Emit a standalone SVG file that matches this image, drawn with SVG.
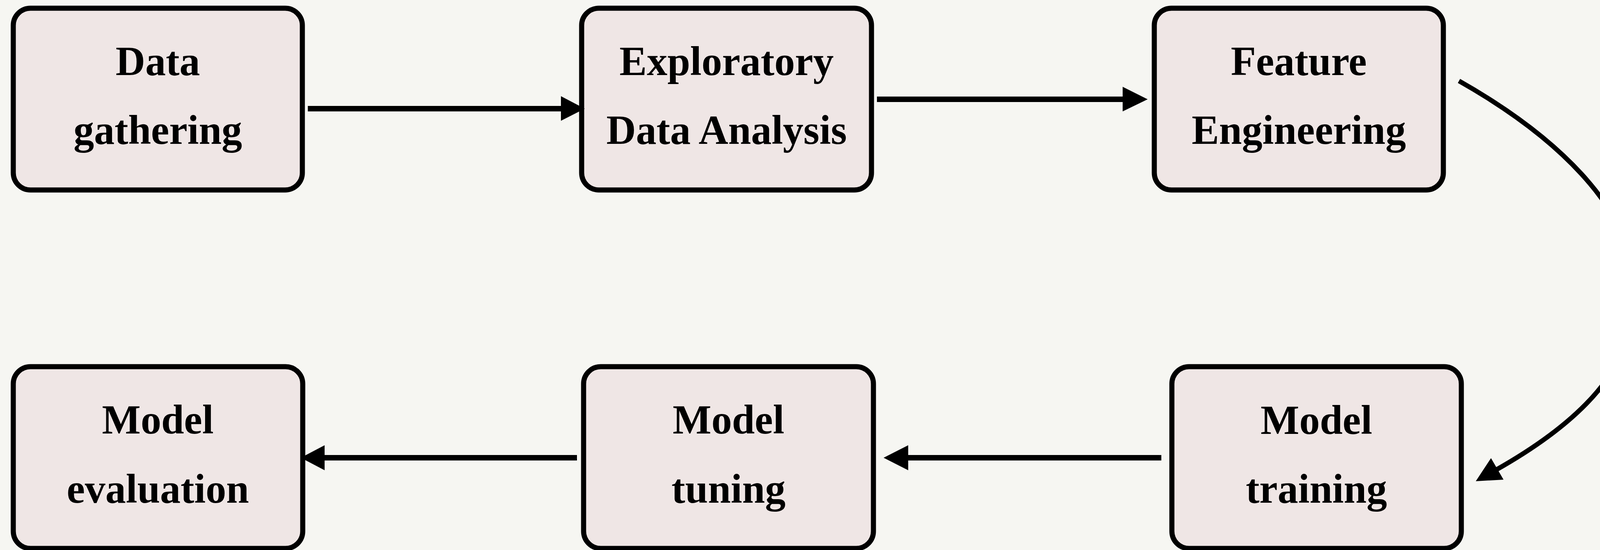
<svg xmlns="http://www.w3.org/2000/svg" width="4214" height="1407" viewBox="0 0 4214 1407">
<style>
.box{fill:#efe6e5;stroke:#000;stroke-width:13}
.lbl{font-family:"Liberation Serif","Times New Roman",serif;font-weight:bold;font-size:105px;fill:#000;text-anchor:middle}
.ln{stroke:#000;stroke-width:14;fill:none}
.cv{stroke:#000;stroke-width:12;fill:none}
.hd{fill:#000}
</style>
<rect x="0" y="0" width="4214" height="1407" fill="#f6f6f2"/>
<g id="node-data-gathering">
<rect class="box" x="34" y="21" width="740" height="465" rx="44"/>
<text class="lbl" x="404" y="192">Data</text>
<text class="lbl" x="404" y="368">gathering</text>
</g>
<g id="node-eda">
<rect class="box" x="1489" y="21" width="742" height="465" rx="44"/>
<text class="lbl" x="1860" y="192">Exploratory</text>
<text class="lbl" x="1860" y="368">Data Analysis</text>
</g>
<g id="node-feature-engineering">
<rect class="box" x="2955" y="21" width="740" height="465" rx="44"/>
<text class="lbl" x="3325" y="192">Feature</text>
<text class="lbl" x="3325" y="368">Engineering</text>
</g>
<g id="node-model-evaluation">
<rect class="box" x="34" y="938" width="741" height="465" rx="44"/>
<text class="lbl" x="404" y="1109">Model</text>
<text class="lbl" x="404" y="1286">evaluation</text>
</g>
<g id="node-model-tuning">
<rect class="box" x="1494" y="938" width="742" height="465" rx="44"/>
<text class="lbl" x="1865" y="1109">Model</text>
<text class="lbl" x="1865" y="1286">tuning</text>
</g>
<g id="node-model-training">
<rect class="box" x="3000" y="938" width="741" height="465" rx="44"/>
<text class="lbl" x="3370" y="1110">Model</text>
<text class="lbl" x="3370" y="1286">training</text>
</g>
<g id="connectors">
<line class="ln" x1="788" y1="278" x2="1440" y2="278"/>
<polygon class="hd" points="1436,246 1497,278 1436,309"/>
<line class="ln" x1="2245" y1="254" x2="2878" y2="254"/>
<polygon class="hd" points="2874,222 2938,254 2874,285"/>
<path class="cv" d="M3735,207 C3970,340 4188,530 4188,752 C4188,960 4007,1102 3830,1202"/>
<polygon class="hd" points="3778,1231 3817,1172 3849,1227"/>
<line class="ln" x1="2973" y1="1171" x2="2321" y2="1171"/>
<polygon class="hd" points="2325,1139 2262,1171 2325,1203"/>
<line class="ln" x1="1477" y1="1171" x2="827" y2="1171"/>
<polygon class="hd" points="831,1139 770,1171 831,1203"/>
</g>
</svg>
